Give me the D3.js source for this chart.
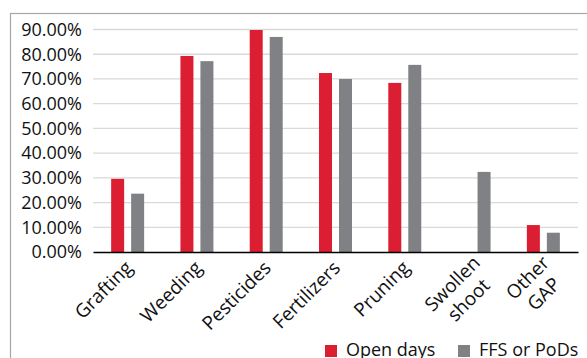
<!DOCTYPE html>
<html>
<head>
<meta charset="utf-8">
<script src="https://cdn.jsdelivr.net/npm/d3@7"></script>
<style>
  html, body { margin: 0; padding: 0; background: #ffffff; }
  svg { display: block; }
  text { font-family: "Open Sans", "Noto Sans", sans-serif; fill: #111; }
</style>
</head>
<body>
<svg id="chart" width="587" height="358"></svg>
<script>
// Share of farmers adopting each practice, by extension channel
const categories = [["Grafting"], ["Weeding"], ["Pesticides"], ["Fertilizers"], ["Pruning"], ["Swollen", "shoot"], ["Other", "GAP"]];
const seriesNames = ["Open days", "FFS or PoDs"];
const openDays = [29.6, 79.3, 89.8, 72.4, 68.4, null, 10.9];
const ffsPods = [23.6, 77.2, 87.0, 70.0, 75.7, 32.4, 7.8];
const yTicks = [0, 10, 20, 30, 40, 50, 60, 70, 80, 90];
const colors = ["#dc1e32", "#808184"];

const svg = d3.select("#chart");
const margin = { left: 93, right: 9 };
const W = 587;

// outer frame
svg.append("rect")
  .attr("x", 10.5).attr("y", 13.5)
  .attr("width", 600).attr("height", 400)
  .attr("fill", "none").attr("stroke", "#a6a6a6").attr("stroke-width", 1.2);

const x = d3.scaleBand()
  .domain(d3.range(categories.length))
  .range([margin.left, W - margin.right])
  .paddingInner(0.524).paddingOuter(0.262);

const x1 = d3.scaleBand()
  .domain(d3.range(seriesNames.length))
  .range([0, x.bandwidth()])
  .paddingInner(0.35);

const y = d3.scaleLinear()
  .domain([0, 90])
  .range([252, 252 - 9 * 24.72]);

// gridlines
svg.append("g")
  .selectAll("line")
  .data(yTicks.filter(d => d > 0))
  .join("line")
  .attr("x1", margin.left).attr("x2", W - margin.right)
  .attr("y1", d => y(d)).attr("y2", d => y(d))
  .attr("stroke", "#d9d9d9").attr("stroke-width", 1.3);

// y axis labels
const yAxis = d3.axisLeft(y).tickValues(yTicks).tickSize(0).tickPadding(11)
  .tickFormat(d => d.toFixed(2) + "%");
const yg = svg.append("g").attr("transform", `translate(${margin.left},0)`).call(yAxis);
yg.select(".domain").remove();
yg.selectAll("text").style("font-family", "'Open Sans', sans-serif").style("font-size", "18px").attr("fill", "#111");

// bars
const series = [openDays, ffsPods];
series.forEach((vals, si) => {
  svg.append("g")
    .selectAll("rect")
    .data(vals.map((v, i) => ({ v, i })).filter(d => d.v !== null))
    .join("rect")
    .attr("x", d => x(d.i) + x1(si))
    .attr("width", x1.bandwidth())
    .attr("y", d => y(d.v))
    .attr("height", d => y(0) - y(d.v))
    .attr("fill", colors[si]);
});

// x axis baseline
const xAxis = d3.axisBottom(x).tickSize(0).tickFormat("");
const xg = svg.append("g").attr("transform", `translate(0,${y(0)})`).call(xAxis);
xg.select(".domain").attr("stroke", "#000").attr("stroke-width", 1.5);

// rotated category labels
const lineH = 23;
categories.forEach((lines, i) => {
  const cx = x(i) + x.bandwidth() / 2;
  const multi = lines.length > 1;
  const g = svg.append("g")
    .attr("transform", `translate(${cx + (multi ? 11 : 6)},${y(0) + (multi ? 16 : 17)}) rotate(-45)`);
  const t = g.append("text").style("font-size", "19px");
  const tsp = lines.map(s => t.append("tspan").text(s));
  if (!multi) {
    t.attr("text-anchor", "end");
  } else {
    const widths = tsp.map(n => n.node().getComputedTextLength());
    const wmax = d3.max(widths);
    t.attr("text-anchor", "middle");
    tsp.forEach((n, k) => n.attr("x", -wmax / 2).attr("y", k * lineH - (lines.length - 1) * lineH / 2 + 6));
  }
});

// legend
const legend = svg.append("g");
const legItems = [{ name: seriesNames[0], x: 325 }, { name: seriesNames[1], x: 458 }];
legItems.forEach((d, i) => {
  legend.append("rect")
    .attr("x", d.x).attr("y", 345).attr("width", 12).attr("height", 12)
    .attr("fill", colors[i]);
  legend.append("text")
    .attr("x", d.x + 21).attr("y", 356)
    .style("font-size", "18px")
    .text(d.name);
});
</script>
</body>
</html>
